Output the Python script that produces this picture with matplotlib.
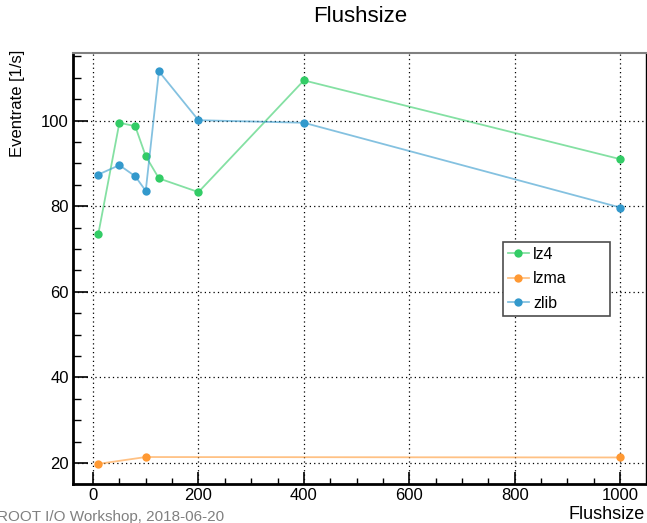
import numpy as np
import matplotlib
matplotlib.use("Agg")
import matplotlib.pyplot as plt
from matplotlib.colors import to_rgba
from matplotlib.ticker import MultipleLocator

plt.rcParams["font.family"] = ["Liberation Sans", "DejaVu Sans"]

# ── data ───────────────────────────────────────────────────────────────────────
flush_lz4 = [10, 50, 80, 100, 125, 200, 400, 1000]
rate_lz4 = [73.5, 99.5, 98.7, 91.7, 86.5, 83.3, 109.4, 91.0]

flush_lzma = [10, 100, 1000]
rate_lzma = [19.8, 21.4, 21.3]

flush_zlib = [10, 50, 80, 100, 125, 200, 400, 1000]
rate_zlib = [87.4, 89.6, 87.0, 83.6, 111.5, 100.1, 99.5, 79.7]

series = [
    ("lz4", flush_lz4, rate_lz4, "#33cc66"),
    ("lzma", flush_lzma, rate_lzma, "#ff9933"),
    ("zlib", flush_zlib, rate_zlib, "#3399cc"),
]

W, H = 647, 523

# ── figure ─────────────────────────────────────────────────────────────────────
fig = plt.figure(figsize=(W / 100, H / 100), dpi=100)
ax = fig.add_axes([73 / W, 1 - 484 / H, (646 - 73) / W, (484 - 53) / H])

for name, x, y, col in series:
    ax.plot(x, y, "-o", color=to_rgba(col, 0.6), lw=1.3, ms=6,
            mfc=col, mec="none", label=name, zorder=3)

ax.set_xlim(-38, 1049)
ax.set_ylim(15.1, 115.8)
ax.xaxis.set_major_locator(MultipleLocator(200))
ax.xaxis.set_minor_locator(MultipleLocator(50))
ax.yaxis.set_major_locator(MultipleLocator(20))
ax.yaxis.set_minor_locator(MultipleLocator(5))
ax.grid(True, which="major", color="black", ls=(0, (1, 2.5)), lw=0.9)

ax.tick_params(axis="both", which="both", direction="in", labelsize=12,
               top=False, right=False)
ax.tick_params(axis="x", which="major", length=9, width=1.2, pad=3)
ax.tick_params(axis="x", which="minor", length=4.5, width=1.0)
ax.tick_params(axis="y", which="major", length=10.5, width=1.2, pad=3)
ax.tick_params(axis="y", which="minor", length=5.5, width=1.0)

ax.spines["left"].set_linewidth(2)
ax.spines["bottom"].set_linewidth(2)
ax.spines["right"].set_linewidth(1)
ax.spines["top"].set_linewidth(1.5)
ax.spines["top"].set_color("0.5")

fig.text(360 / W, 1 - 17 / H, "Flushsize", ha="center", va="center", fontsize=16)
fig.text(645 / W, 1 - 519 / H, "Flushsize", ha="right", va="baseline", fontsize=13)
fig.text(18 / W, 1 - 50 / H, "Eventrate [1/s]", ha="center", va="top",
         rotation=90, fontsize=12)
fig.text(-3 / W, 1 - 517 / H, "ROOT I/O Workshop, 2018-06-20", ha="left",
         va="center", fontsize=11, color="0.5")

leg = ax.legend(loc="upper left",
                bbox_to_anchor=(503 / W, 1 - 321 / H, 107 / W, 79 / H),
                bbox_transform=fig.transFigure, mode="expand", fontsize=11.5,
                fancybox=False, framealpha=1, edgecolor="0.3", borderaxespad=0,
                handlelength=1.3, handletextpad=0.3, labelspacing=0.6,
                borderpad=0.3)
leg.get_frame().set_linewidth(1.2)
leg.set_zorder(10)

fig.savefig("out.png", dpi=100)
